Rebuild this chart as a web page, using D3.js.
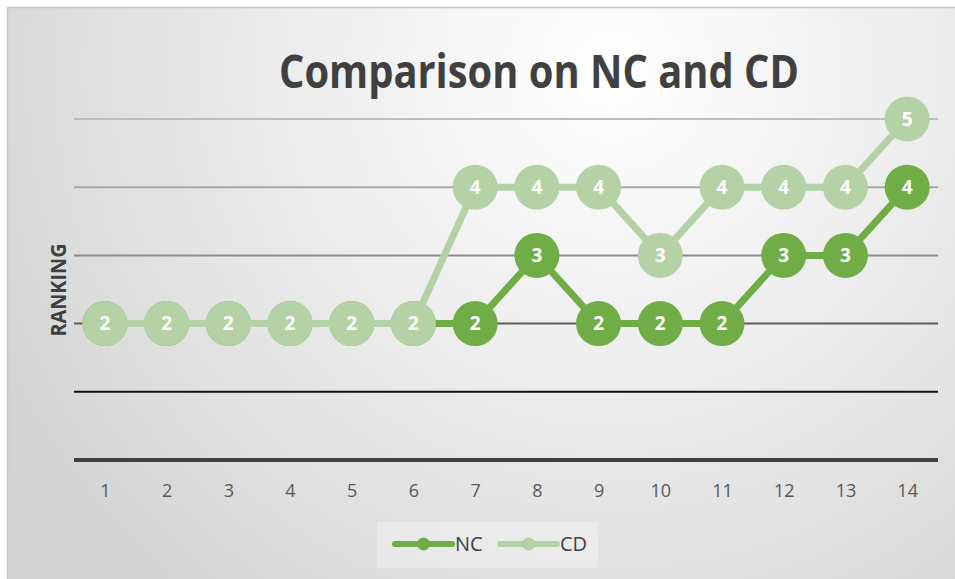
<!DOCTYPE html>
<html>
<head>
<meta charset="utf-8">
<script src="https://cdn.jsdelivr.net/npm/d3@7/dist/d3.min.js"></script>
<style>
  html, body { margin: 0; padding: 0; background: #fff; }
  svg { display: block; }
</style>
</head>
<body>
<svg id="chart" width="955" height="579"></svg>
<script>
// Positions 1..14 along the x axis
const categories = [1, 2, 3, 4, 5, 6, 7, 8, 9, 10, 11, 12, 13, 14];
// Ranking per position for each series
const ncValues = [2, 2, 2, 2, 2, 2, 2, 3, 2, 2, 2, 3, 3, 4];
const cdValues = [2, 2, 2, 2, 2, 2, 4, 4, 4, 3, 4, 4, 4, 5];
const seriesNames = ["NC", "CD"];
const yTicks = [0, 1, 2, 3, 4, 5];

const W = 955, H = 579;
const colors = { NC: "#70ad47", CD: "#b4d2a6" };
const gridColors = ["#404040", "#111111", "#5f5f5f", "#8e8e8e", "#a9a9a9", "#bdbdbd"];
const gridWidths = [4, 2, 2, 2, 2, 2];

const svg = d3.select("#chart");
const defs = svg.append("defs");
const grad = defs.append("radialGradient")
  .attr("id", "bg").attr("gradientUnits", "userSpaceOnUse")
  .attr("cx", 610).attr("cy", 70).attr("r", 720);
grad.append("stop").attr("offset", "0").attr("stop-color", "#ffffff");
grad.append("stop").attr("offset", "0.45").attr("stop-color", "#ececec");
grad.append("stop").attr("offset", "1").attr("stop-color", "#d2d2d2");

svg.append("rect").attr("width", W).attr("height", H).attr("fill", "#ffffff");
svg.append("rect").attr("x", 7.5).attr("y", 7.5).attr("width", W).attr("height", H)
  .attr("fill", "url(#bg)").attr("stroke", "#c6c6c6").attr("stroke-width", 1.5);

const plot = { left: 74, right: 938, top: 119, bottom: 460 };

const x = d3.scalePoint().domain(categories).range([plot.left, plot.right]).padding(0.5);
const y = d3.scaleLinear().domain([0, 5]).range([plot.bottom, plot.top]);

// Horizontal gridlines
svg.append("g").selectAll("line").data(yTicks).join("line")
  .attr("x1", plot.left).attr("x2", plot.right)
  .attr("y1", d => y(d)).attr("y2", d => y(d))
  .attr("stroke", (d, i) => gridColors[i])
  .attr("stroke-width", (d, i) => gridWidths[i]);

// X axis labels
const xAxis = d3.axisBottom(x).tickSize(0).tickPadding(0);
const gx = svg.append("g").attr("transform", `translate(0, ${plot.bottom + 24})`).call(xAxis);
gx.select(".domain").remove();
gx.selectAll("text")
  .attr("font-family", "'Open Sans', sans-serif")
  .attr("font-size", 18).attr("fill", "#595959").attr("dy", "0.71em");

// Title
svg.append("text")
  .attr("x", 539).attr("y", 88).attr("text-anchor", "middle")
  .attr("font-family", "'Open Sans', sans-serif").attr("font-weight", 700)
  .attr("font-size", 46).attr("fill", "#404040")
  .attr("textLength", 520).attr("lengthAdjust", "spacingAndGlyphs")
  .text("Comparison on NC and CD");

// Y axis title
svg.append("text")
  .attr("transform", "translate(66, 290) rotate(-90)")
  .attr("text-anchor", "middle")
  .attr("font-family", "'Open Sans', sans-serif").attr("font-weight", 700)
  .attr("font-size", 21).attr("fill", "#404040")
  .attr("textLength", 93).attr("lengthAdjust", "spacingAndGlyphs")
  .text("RANKING");

const line = d3.line().x(d => x(d.c)).y(d => y(d.v));

function drawSeries(name, values) {
  const pts = categories.map((c, i) => ({ c, v: values[i] }));
  const g = svg.append("g");
  g.append("path").datum(pts).attr("d", line)
    .attr("fill", "none").attr("stroke", colors[name])
    .attr("stroke-width", 7).attr("stroke-linejoin", "round");
  const m = g.selectAll("g.pt").data(pts).join("g").attr("class", "pt")
    .attr("transform", d => `translate(${x(d.c)}, ${y(d.v)})`);
  m.append("circle").attr("r", 22.5).attr("fill", colors[name]);
  m.append("text").attr("text-anchor", "middle").attr("dy", "0.36em")
    .attr("font-family", "'Open Sans', sans-serif").attr("font-weight", 700)
    .attr("font-size", 19).attr("fill", "#ffffff")
    .text(d => d.v);
}
drawSeries("NC", ncValues);
drawSeries("CD", cdValues);

// Legend
const lg = svg.append("g");
lg.append("rect").attr("x", 377).attr("y", 522).attr("width", 221).attr("height", 46)
  .attr("fill", "#ffffff").attr("fill-opacity", 0.3);
const legendItems = [
  { name: "NC", x0: 395 },
  { name: "CD", x0: 500 }
];
legendItems.forEach(it => {
  lg.append("line").attr("x1", it.x0).attr("x2", it.x0 + 57)
    .attr("y1", 544).attr("y2", 544)
    .attr("stroke", colors[it.name]).attr("stroke-width", 6).attr("stroke-linecap", "round");
  lg.append("circle").attr("cx", it.x0 + 28.5).attr("cy", 544).attr("r", 6.5)
    .attr("fill", colors[it.name]);
  lg.append("text").attr("x", it.x0 + 60).attr("y", 544).attr("dy", "0.36em")
    .attr("font-family", "'Open Sans', sans-serif").attr("font-size", 20)
    .attr("fill", "#404040").text(it.name);
});
</script>
</body>
</html>
